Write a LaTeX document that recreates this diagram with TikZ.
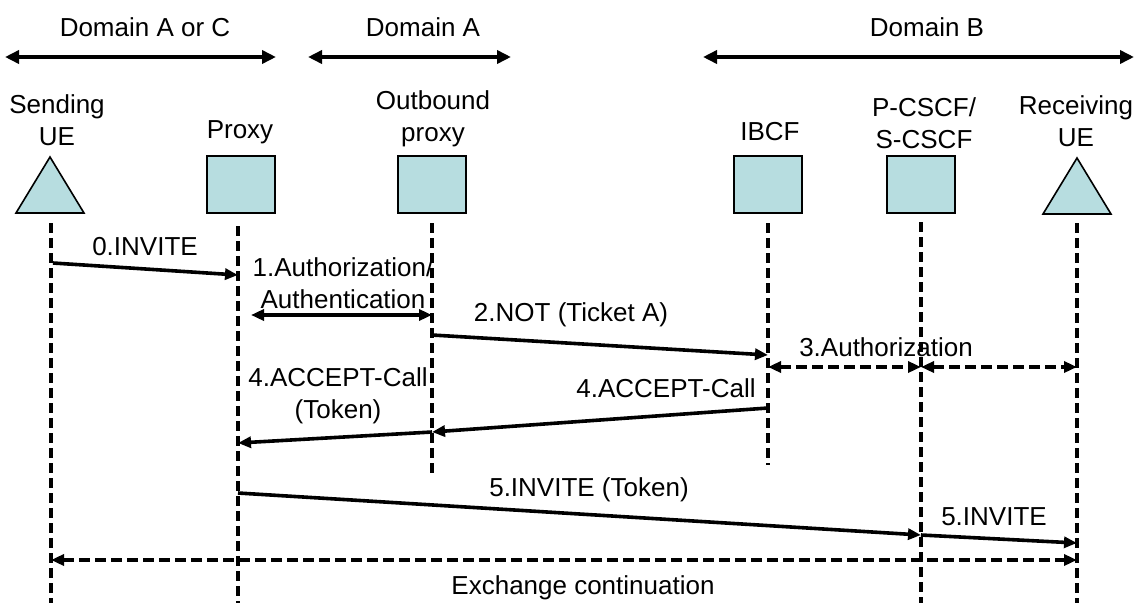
\documentclass[tikz,border=0pt]{standalone}
\usepackage{fontspec}
\setmainfont{Liberation Sans}
\usetikzlibrary{arrows.meta}
\definecolor{boxfill}{RGB}{183,221,224}
\begin{document}
\begin{tikzpicture}[x=1pt,y=-1pt,
  lbl/.style={font=\fontsize{26}{32}\selectfont, align=center, inner sep=0pt},
  actorbox/.style={draw, line width=2pt, fill=boxfill, minimum width=68pt, minimum height=57pt, inner sep=0pt},
  uetri/.style={draw, line width=1.6pt, fill=boxfill, line join=miter},
  lifeline/.style={line width=3.2pt, dash pattern=on 10pt off 5pt},
  msg/.style={line width=3.6pt, -{Triangle[length=13pt,width=11pt]}},
  dmsg/.style={line width=3.4pt, dash pattern=on 11pt off 5pt, {Triangle[length=13pt,width=11pt]}-{Triangle[length=13pt,width=11pt]}},
  bimsg/.style={line width=3.6pt, {Triangle[length=13pt,width=11pt]}-{Triangle[length=13pt,width=11pt]}},
  domarrow/.style={line width=4pt, {Triangle[length=14pt,width=13pt]}-{Triangle[length=14pt,width=13pt]}}
]
\useasboundingbox (0,0) rectangle (1141,603);

% domains
\node[lbl] (domAC) at (145,27) {Domain A or C};
\node[lbl] (domA) at (423,27) {Domain A};
\node[lbl] (domB) at (927,27) {Domain B};
\coordinate (dAC1) at (5,57);   \coordinate (dAC2) at (276,57);
\coordinate (dA1) at (308,57);  \coordinate (dA2) at (511,57);
\coordinate (dB1) at (703,57);  \coordinate (dB2) at (1134,57);
\draw[domarrow] (dAC1) -- (dAC2);
\draw[domarrow] (dA1) -- (dA2);
\draw[domarrow] (dB1) -- (dB2);

% actor labels
\node[lbl] (lsue) at (57,120) {Sending\\UE};
\node[lbl] (lproxy) at (240,132) {Proxy};
\node[lbl] (lobp) at (433,119) {Outbound\\proxy};
\node[lbl] (libcf) at (770,132) {IBCF};
\node[lbl] (lcscf) at (924,123) {P-CSCF/\\S-CSCF};
\node[lbl] (lrue) at (1076,121) {Receiving\\UE};

% actors
\draw[uetri] (16,213) -- (50,157) -- (84,213) -- cycle;
\draw[uetri] (1043,214) -- (1077,158) -- (1111,214) -- cycle;
\node[actorbox] (proxy) at (241,184.5) {};
\node[actorbox] (obp) at (432,184.5) {};
\node[actorbox] (ibcf) at (768,184.5) {};
\node[actorbox] (cscf) at (921,184.5) {};

% lifelines
\coordinate (sueT) at (51,223);   \coordinate (sueB) at (51,603);
\coordinate (proxyT) at (238,226); \coordinate (proxyB) at (238,603);
\coordinate (obpT) at (432,223);  \coordinate (obpB) at (432,473);
\coordinate (ibcfT) at (768,223); \coordinate (ibcfB) at (768,465);
\coordinate (cscfT) at (921,222); \coordinate (cscfB) at (921,603);
\coordinate (rueT) at (1077,223); \coordinate (rueB) at (1077,603);
\draw[lifeline] (sueT) -- (sueB);
\draw[lifeline] (proxyT) -- (proxyB);
\draw[lifeline] (obpT) -- (obpB);
\draw[lifeline] (ibcfT) -- (ibcfB);
\draw[lifeline] (cscfT) -- (cscfB);
\draw[lifeline] (rueT) -- (rueB);

% message end points
\coordinate (m0a) at (53,263);  \coordinate (m0b) at (238,275);
\coordinate (m1a) at (251,315); \coordinate (m1b) at (432,315);
\coordinate (m2a) at (432,335); \coordinate (m2b) at (768,355);
\coordinate (m3a) at (768,367); \coordinate (m3b) at (921,367); \coordinate (m3c) at (1077,367);
\coordinate (m4a) at (768,408); \coordinate (m4b) at (432,432); \coordinate (m4c) at (238,443);
\coordinate (m5a) at (238,493); \coordinate (m5b) at (921,535); \coordinate (m5c) at (1077,543);
\coordinate (m6a) at (51,560);  \coordinate (m6b) at (1077,560);

% messages
\draw[msg] (m0a) -- (m0b);
\draw[bimsg] (m1a) -- (m1b);
\draw[msg] (m2a) -- (m2b);
\draw[dmsg] (m3a) -- (m3b);
\draw[dmsg] (m3b) -- (m3c);
\draw[msg] (m4a) -- (m4b);
\draw[msg] (m4b) -- (m4c);
\draw[msg] (m5a) -- (m5b);
\draw[msg] (m5b) -- (m5c);
\draw[dmsg] (m6a) -- (m6b);

% message labels
\node[lbl] (t0) at (145,247) {0.INVITE};
\node[lbl] (t1) at (343,283) {1.Authorization/\\Authentication};
\node[lbl] (t2) at (571,315) {2.NOT (Ticket A)};
\node[lbl] (t3) at (886,347) {3.Authorization};
\node[lbl] (t4a) at (666,388) {4.ACCEPT-Call};
\node[lbl] (t4b) at (338,396) {4.ACCEPT-Call\\(Token)};
\node[lbl] (t5a) at (589,490) {5.INVITE (Token)};
\node[lbl] (t5b) at (994,517) {5.INVITE};
\node[lbl] (t6) at (583,588) {Exchange continuation};
\end{tikzpicture}
\end{document}
